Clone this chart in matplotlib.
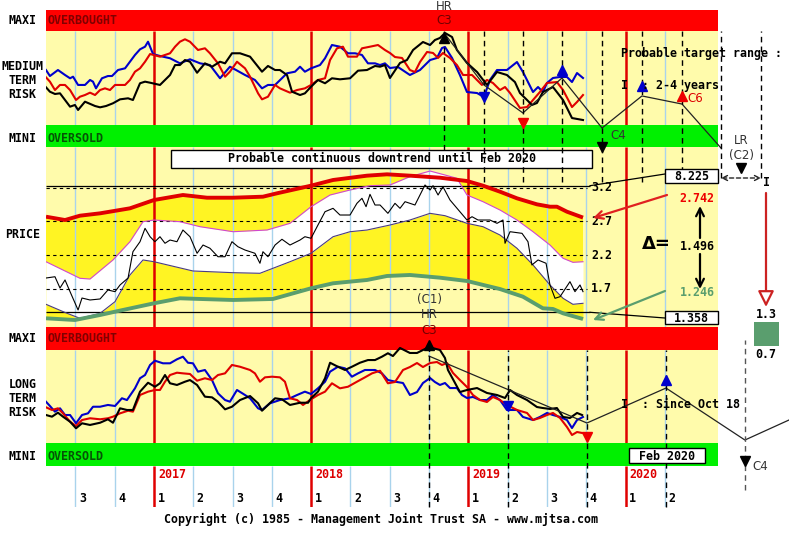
import numpy as np
import matplotlib
matplotlib.use("Agg")
import matplotlib.pyplot as plt
from matplotlib.patches import Rectangle, FancyArrowPatch
from matplotlib.lines import Line2D

# ---------------- data ----------------
quarter_lines = [2016.5, 2016.75, 2017.25, 2017.5, 2017.75, 2018.25, 2018.5, 2018.75,
                 2019.25, 2019.5, 2019.75, 2020.25]
year_lines = [2017, 2018, 2019, 2020]
year_labels = ["2017", "2018", "2019", "2020"]
quarter_label_pos = [2016.5, 2016.75, 2017.0, 2017.25, 2017.5, 2017.75, 2018.0, 2018.25,
                     2018.5, 2018.75, 2019.0, 2019.25, 2019.5, 2019.75, 2020.0, 2020.25]
quarter_labels = ["3", "4", "1", "2", "3", "4", "1", "2", "3", "4", "1", "2", "3", "4", "1", "2"]

# medium term risk (0 = oversold limit, 100 = overbought limit)
mt_blue = [(2016.313,58.5),(2016.338,52.1),(2016.389,58.5),(2016.434,53.2),(2016.466,49.7),(2016.485,51.4),
           (2016.517,42.6),(2016.561,42.6),(2016.593,47.9),(2016.612,46.1),(2016.631,39.0),(2016.669,49.7),
           (2016.707,52.1),(2016.733,52.1),(2016.771,58.5),(2016.816,60.3),(2016.847,67.3),(2016.879,74.5),
           (2016.911,80.5),(2016.943,83.3),(2016.962,88.6),(2016.994,75.5),(2017.038,73.4),(2017.102,71.0),
           (2017.165,65.6),(2017.229,69.9),(2017.293,65.6),(2017.356,63.8),(2017.420,49.7),(2017.483,62.0),
           (2017.522,58.5),(2017.579,53.2),(2017.642,47.9),(2017.687,39.0),(2017.725,42.6),(2017.770,42.6),
           (2017.846,55.0),(2017.897,56.7),(2017.929,62.0),(2017.960,56.7),(2017.999,60.3),(2018.056,63.8),
           (2018.088,71.0),(2018.132,85.1),(2018.183,83.3),(2018.234,76.3),(2018.279,76.3),(2018.323,74.5),
           (2018.361,65.6),(2018.406,65.6),(2018.438,63.8),(2018.469,65.6),(2018.501,60.6),(2018.552,61.7),
           (2018.628,53.2),(2018.692,58.5),(2018.756,69.1),(2018.800,71.3),(2018.832,81.9),(2018.851,83.0),
           (2018.896,71.3),(2018.946,53.2),(2018.991,35.1),(2019.055,34.0),(2019.099,29.8),(2019.137,47.9),
           (2019.182,58.5),(2019.245,58.5),(2019.309,67.0),(2019.347,56.4),(2019.411,35.1),(2019.443,40.4),
           (2019.474,35.1),(2019.500,44.7),(2019.538,50.0),(2019.583,51.1),(2019.627,51.1),(2019.659,45.7),
           (2019.691,55.3),(2019.729,50.0)]
mt_red = [(2016.313,50.7),(2016.338,46.1),(2016.370,37.2),(2016.402,42.6),(2016.434,42.6),(2016.466,37.2),
          (2016.504,26.6),(2016.529,30.1),(2016.561,31.9),(2016.593,34.4),(2016.625,31.9),(2016.657,37.2),
          (2016.688,39.0),(2016.720,37.2),(2016.752,42.6),(2016.816,42.6),(2016.847,47.9),(2016.879,56.7),
          (2016.911,60.3),(2016.943,67.3),(2016.975,75.5),(2017.038,72.7),(2017.102,76.3),(2017.134,83.3),
          (2017.165,88.6),(2017.197,91.2),(2017.229,88.6),(2017.280,79.8),(2017.324,81.6),(2017.356,76.3),
          (2017.407,65.6),(2017.452,51.4),(2017.483,56.7),(2017.528,67.3),(2017.579,60.3),(2017.611,51.4),
          (2017.662,33.7),(2017.687,27.3),(2017.725,30.1),(2017.770,42.6),(2017.801,39.0),(2017.865,34.4),
          (2017.910,37.2),(2017.960,39.0),(2017.999,42.6),(2018.043,47.9),(2018.088,49.7),(2018.120,69.1),
          (2018.164,81.6),(2018.202,83.3),(2018.234,72.7),(2018.291,72.7),(2018.323,81.6),(2018.374,83.3),
          (2018.425,85.1),(2018.469,79.8),(2018.501,76.6),(2018.533,72.3),(2018.578,71.3),(2018.628,58.5),
          (2018.660,56.4),(2018.692,67.0),(2018.737,77.7),(2018.775,76.6),(2018.807,71.3),(2018.838,76.6),
          (2018.883,71.3),(2018.927,63.8),(2018.966,53.2),(2019.023,53.2),(2019.086,42.6),(2019.118,47.9),
          (2019.156,44.7),(2019.201,37.2),(2019.233,40.4),(2019.265,34.0),(2019.328,18.1),(2019.373,19.1),
          (2019.411,26.6),(2019.455,35.1),(2019.500,44.7),(2019.563,45.7),(2019.602,37.2),(2019.659,19.1),
          (2019.691,24.5),(2019.729,31.9)]
mt_black = [(2016.313,40.1),(2016.338,35.4),(2016.370,33.0),(2016.402,33.7),(2016.434,26.6),(2016.466,19.5),
            (2016.497,21.3),(2016.517,16.0),(2016.561,24.8),(2016.625,20.2),(2016.657,18.8),(2016.695,20.2),
            (2016.739,23.1),(2016.784,27.3),(2016.835,28.4),(2016.866,26.6),(2016.911,44.4),(2016.943,46.1),
            (2016.975,45.0),(2017.038,42.6),(2017.102,53.2),(2017.134,63.8),(2017.165,63.8),(2017.197,69.1),
            (2017.229,67.3),(2017.274,55.6),(2017.324,65.6),(2017.369,62.0),(2017.420,67.3),(2017.452,65.6),
            (2017.496,76.3),(2017.547,76.3),(2017.611,72.7),(2017.662,62.0),(2017.687,56.7),(2017.725,62.8),
            (2017.770,58.5),(2017.801,58.5),(2017.846,53.2),(2017.878,35.4),(2017.929,31.9),(2017.960,33.7),
            (2017.999,40.7),(2018.043,47.9),(2018.088,44.4),(2018.132,49.7),(2018.183,48.6),(2018.247,49.7),
            (2018.298,57.8),(2018.355,58.5),(2018.406,62.8),(2018.438,62.0),(2018.469,63.8),(2018.501,50.0),
            (2018.565,66.0),(2018.609,69.1),(2018.648,79.8),(2018.711,88.3),(2018.756,85.1),(2018.787,90.4),
            (2018.819,92.6),(2018.851,97.9),(2018.896,93.6),(2018.927,79.8),(2018.991,66.0),(2019.055,56.4),
            (2019.118,42.6),(2019.182,56.4),(2019.245,53.2),(2019.296,45.7),(2019.328,34.0),(2019.373,26.6),
            (2019.404,21.3),(2019.436,23.4),(2019.474,35.1),(2019.538,40.4),(2019.602,26.6),(2019.659,7.4),
            (2019.729,5.3)]
mt_forecast = [(2018.845,97.9),(2019.099,42.6),(2019.347,12.8),(2019.595,50.0),(2019.850,-3.2),
               (2020.104,30.9),(2020.359,22.3),(2020.607,-24.5)]
mt_cycles = [2018.845, 2019.099, 2019.347, 2019.595, 2019.850, 2020.104, 2020.359, 2020.607, 2020.861]
mt_markers = [(2018.845,92.6,"^","black"),(2019.099,29.8,"v","#0000CC"),(2019.347,1.8,"v","#EE0000"),
              (2019.595,58.5,"^","#0000CC"),(2019.850,-23.0,"v","black"),(2020.104,41.5,"^","#0000CC"),
              (2020.359,30.9,"^","#EE0000"),(2020.734,-45.7,"v","black")]

# price
price_upper = [(2016.313,2.768),(2016.434,2.719),(2016.529,2.783),(2016.657,2.818),(2016.847,2.892),
               (2017.000,3.015),(2017.184,3.089),(2017.337,3.049),(2017.503,3.049),(2017.693,3.064),
               (2017.782,3.114),(2017.999,3.227),(2018.139,3.311),(2018.355,3.375),(2018.482,3.395),
               (2018.628,3.375),(2018.819,3.345),(2018.991,3.296),(2019.093,3.227),(2019.201,3.138),
               (2019.309,3.040),(2019.436,2.951),(2019.519,2.916),(2019.563,2.916),(2019.627,2.842),
               (2019.729,2.755)]
price_band_hi = [(2016.313,2.102),(2016.529,1.857),(2016.593,1.846),(2016.739,2.128),(2016.847,2.398),
                 (2016.930,2.694),(2017.000,2.719),(2017.165,2.694),(2017.293,2.620),(2017.503,2.546),
                 (2017.719,2.571),(2017.865,2.670),(2017.999,2.916),(2018.120,3.089),(2018.247,3.163),
                 (2018.374,3.227),(2018.501,3.237),(2018.628,3.360),(2018.756,3.444),(2018.851,3.385),
                 (2018.927,3.336),(2018.991,3.089),(2019.093,2.990),(2019.201,2.867),(2019.309,2.719),
                 (2019.411,2.546),(2019.519,2.349),(2019.602,2.153),(2019.665,2.093),(2019.729,2.102)]
price_band_lo = [(2016.313,1.472),(2016.447,1.339),(2016.529,1.265),(2016.657,1.339),(2016.752,1.511),
                 (2016.847,1.906),(2016.930,2.128),(2017.000,2.102),(2017.248,1.965),(2017.503,1.940),
                 (2017.674,1.931),(2017.865,2.102),(2017.999,2.227),(2018.139,2.472),(2018.247,2.546),
                 (2018.355,2.571),(2018.501,2.645),(2018.628,2.719),(2018.756,2.818),(2018.851,2.783),
                 (2018.991,2.670),(2019.093,2.620),(2019.201,2.497),(2019.309,2.301),(2019.411,2.054),
                 (2019.519,1.758),(2019.602,1.561),(2019.665,1.472),(2019.729,1.487)]
price_lower = [(2016.313,1.265),(2016.497,1.240),(2016.657,1.314),(2016.752,1.363),(2017.000,1.487),
               (2017.165,1.561),(2017.293,1.551),(2017.503,1.536),(2017.757,1.551),(2017.999,1.709),
               (2018.139,1.783),(2018.355,1.832),(2018.482,1.891),(2018.628,1.906),(2018.819,1.866),
               (2018.991,1.817),(2019.201,1.698),(2019.347,1.585),(2019.474,1.413),(2019.538,1.403),
               (2019.602,1.339),(2019.729,1.255)]
price = [(2016.313,1.861),(2016.370,1.880),(2016.402,1.713),(2016.434,1.832),(2016.466,1.659),(2016.517,1.388),
         (2016.542,1.565),(2016.593,1.536),(2016.657,1.551),(2016.707,1.684),(2016.752,1.659),(2016.784,1.758),
         (2016.835,1.861),(2016.866,2.250),(2016.911,2.398),(2016.943,2.596),(2016.975,2.472),(2017.006,2.398),
         (2017.038,2.472),(2017.070,2.375),(2017.102,2.423),(2017.146,2.398),(2017.184,2.571),(2017.229,2.472),
         (2017.274,2.227),(2017.312,2.349),(2017.356,2.301),(2017.407,2.176),(2017.452,2.176),(2017.496,2.398),
         (2017.534,2.324),(2017.579,2.275),(2017.642,2.227),(2017.674,2.079),(2017.693,2.250),(2017.725,2.176),
         (2017.770,2.349),(2017.814,2.434),(2017.865,2.349),(2017.929,2.423),(2017.960,2.472),(2017.999,2.449),
         (2018.043,2.645),(2018.088,2.842),(2018.139,2.892),(2018.183,2.793),(2018.247,2.793),(2018.291,2.966),
         (2018.323,3.040),(2018.349,2.916),(2018.374,3.099),(2018.406,2.941),(2018.438,2.941),(2018.488,2.818),
         (2018.533,2.966),(2018.565,2.892),(2018.597,2.990),(2018.660,2.941),(2018.724,3.237),(2018.756,3.163),
         (2018.775,3.227),(2018.807,3.089),(2018.838,3.212),(2018.883,3.015),(2018.946,2.842),(2018.991,2.719),
         (2019.023,2.768),(2019.061,2.719),(2019.137,2.719),(2019.182,2.670),(2019.220,2.719),(2019.233,2.375),
         (2019.265,2.546),(2019.341,2.522),(2019.379,2.398),(2019.404,2.054),(2019.443,2.128),(2019.494,2.079),
         (2019.519,1.758),(2019.551,1.561),(2019.583,1.585),(2019.646,1.807),(2019.678,1.659),(2019.710,1.758),
         (2019.729,1.659)]
price_grid = [1.7, 2.2, 2.7, 3.2]
target_hi, target_lo = 3.225, 1.358
proj_hi, proj_lo, proj_delta = 2.742, 1.246, 1.496
lr_hi, lr_lo = 1.3, 0.7

# long term risk
lt_blue = [(2016.313,44.4),(2016.338,39.8),(2016.370,33.7),(2016.402,37.3),(2016.434,30.1),(2016.466,30.1),
           (2016.504,21.2),(2016.542,30.1),(2016.580,31.9),(2016.612,39.0),(2016.657,39.0),(2016.707,40.9),
           (2016.752,39.8),(2016.796,48.1),(2016.828,46.2),(2016.879,58.8),(2016.911,69.6),(2016.943,73.1),
           (2016.975,83.9),(2017.006,88.5),(2017.057,85.7),(2017.102,85.7),(2017.146,90.0),(2017.184,92.8),
           (2017.216,86.3),(2017.248,85.7),(2017.280,76.7),(2017.324,78.5),(2017.369,67.7),(2017.407,53.4),
           (2017.452,46.2),(2017.483,44.4),(2017.528,57.0),(2017.579,51.6),(2017.611,48.1),(2017.662,37.3),
           (2017.687,35.5),(2017.738,42.7),(2017.801,46.2),(2017.865,48.1),(2017.910,51.6),(2017.960,55.2),
           (2017.999,52.7),(2018.043,58.8),(2018.088,65.9),(2018.120,76.7),(2018.170,82.0),(2018.215,80.3),
           (2018.259,71.3),(2018.298,74.9),(2018.342,78.5),(2018.406,78.5),(2018.450,74.9),(2018.488,67.7),
           (2018.546,65.6),(2018.584,64.5),(2018.628,51.6),(2018.673,54.8),(2018.711,64.5),(2018.756,69.9),
           (2018.787,65.6),(2018.819,62.4),(2018.851,64.5),(2018.883,59.1),(2018.927,59.1),(2018.959,51.6),
           (2018.991,48.4),(2019.029,49.5),(2019.074,46.2),(2019.118,46.2),(2019.156,51.6),(2019.201,46.2),
           (2019.245,35.5),(2019.309,35.5),(2019.347,28.0),(2019.411,24.7),(2019.455,28.0),(2019.500,32.3),
           (2019.538,30.1),(2019.583,28.0),(2019.627,24.7),(2019.659,16.1),(2019.691,24.7),(2019.729,28.0)]
lt_red = [(2016.313,38.4),(2016.351,35.5),(2016.389,37.3),(2016.421,31.9),(2016.466,22.9),(2016.504,18.3),
          (2016.542,24.7),(2016.593,26.6),(2016.657,25.5),(2016.707,26.6),(2016.739,28.3),(2016.784,31.9),
          (2016.835,34.7),(2016.866,33.7),(2016.911,51.6),(2016.962,55.2),(2017.006,57.0),(2017.038,57.0),
          (2017.070,65.9),(2017.102,73.1),(2017.146,75.6),(2017.184,74.9),(2017.229,74.2),(2017.274,67.0),
          (2017.324,69.6),(2017.369,67.7),(2017.407,73.1),(2017.452,74.9),(2017.496,83.9),(2017.547,82.0),
          (2017.611,78.5),(2017.642,74.9),(2017.674,65.9),(2017.706,70.6),(2017.751,71.3),(2017.801,70.6),
          (2017.833,65.9),(2017.865,48.1),(2017.910,46.2),(2017.948,40.9),(2017.992,46.2),(2018.043,51.6),
          (2018.088,55.2),(2018.132,64.2),(2018.183,58.8),(2018.234,60.5),(2018.291,65.9),(2018.342,70.6),
          (2018.387,74.9),(2018.438,77.7),(2018.488,64.2),(2018.533,65.6),(2018.584,78.5),(2018.628,81.7),
          (2018.673,86.0),(2018.711,81.7),(2018.756,86.0),(2018.800,87.1),(2018.832,83.9),(2018.864,86.0),
          (2018.902,75.3),(2018.946,67.7),(2018.991,60.2),(2019.029,51.6),(2019.074,46.2),(2019.118,44.1),
          (2019.156,49.5),(2019.201,46.2),(2019.245,40.9),(2019.309,35.5),(2019.373,32.3),(2019.411,24.7),
          (2019.455,26.9),(2019.500,30.1),(2019.538,32.3),(2019.583,26.9),(2019.627,17.2),(2019.659,8.6),
          (2019.691,11.8),(2019.723,10.8)]
lt_black = [(2016.313,30.1),(2016.351,28.3),(2016.389,32.6),(2016.421,28.3),(2016.466,22.9),(2016.504,15.8),
            (2016.542,21.2),(2016.593,19.4),(2016.657,21.8),(2016.707,25.5),(2016.739,21.8),(2016.784,37.3),
            (2016.828,35.5),(2016.866,35.5),(2016.911,55.2),(2016.962,64.8),(2017.006,60.5),(2017.038,64.2),
            (2017.070,73.1),(2017.102,64.2),(2017.146,62.4),(2017.197,65.9),(2017.229,67.7),(2017.274,62.4),
            (2017.324,49.8),(2017.369,49.1),(2017.407,44.4),(2017.452,36.2),(2017.496,39.0),(2017.547,46.2),
            (2017.611,50.5),(2017.662,42.7),(2017.687,34.7),(2017.725,40.9),(2017.770,48.1),(2017.814,47.0),
            (2017.865,40.9),(2017.929,43.3),(2017.980,43.3),(2017.999,48.1),(2018.043,55.2),(2018.088,69.6),
            (2018.120,86.3),(2018.170,82.0),(2018.215,78.5),(2018.259,82.0),(2018.310,86.3),(2018.361,89.2),
            (2018.406,89.2),(2018.450,92.8),(2018.488,96.5),(2018.520,93.5),(2018.565,102.2),(2018.628,96.8),
            (2018.673,96.8),(2018.711,100.0),(2018.749,103.2),(2018.819,100.0),(2018.851,91.4),(2018.870,78.5),
            (2018.915,64.5),(2018.946,54.8),(2018.991,57.0),(2019.055,59.1),(2019.118,53.8),(2019.182,51.6),
            (2019.233,48.4),(2019.265,57.0),(2019.309,51.6),(2019.373,46.2),(2019.436,38.7),(2019.474,37.6),
            (2019.519,36.6),(2019.563,37.6),(2019.602,28.0),(2019.646,26.9),(2019.691,32.3),(2019.723,30.1)]
lt_forecast = [(2018.749,93.5),(2019.754,21.5),(2020.257,59.1),(2020.759,3.2),(2021.039,24.7)]
lt_cycles = [2018.749, 2019.252, 2019.754, 2020.257]
lt_cycle_last = 2020.759
lt_markers = [(2018.749,105.4,"^","black"),(2019.252,39.8,"v","#0000CC"),(2019.754,6.5,"v","#EE0000"),
              (2020.257,67.7,"^","#0000CC"),(2020.759,-19.5,"v","black")]

# ---------------- figure / layout ----------------
W, H = 789, 535
fig = plt.figure(figsize=(W / 100, H / 100), dpi=100)
fig.patch.set_facecolor("white")

T_LEFT = 2016.313
PX_PER_YR = 157.2
T_RIGHT = T_LEFT + (W - 46) / PX_PER_YR
T_PANEL_END = T_LEFT + (718 - 46) / PX_PER_YR
PW = T_PANEL_END - T_LEFT

LY = "#FFFBAB"
BY = "#FFF423"
RB = "#FF0000"
GB = "#00F000"
LB = "#A9D3EC"
YR = "#E00000"
BLUE = "#0000CC"
REDL = "#E00000"
GREEN_P = "#5A9E6E"
MONO = "DejaVu Sans Mono"


def mr(py):
    return (125 - py) / 0.94


def lr(py):
    return (443 - py) / 0.93


def pp(py):
    return 3.2 - (py - 187.5) / 67.6


def add_panel(top, bottom, ytop, ybot, z):
    ax = fig.add_axes([46 / W, 1 - bottom / H, (W - 46) / W, (bottom - top) / H])
    ax.set_xlim(T_LEFT, T_RIGHT)
    ax.set_ylim(ybot, ytop)
    ax.axis("off")
    ax.set_zorder(z)
    return ax


def ftext(px, py, s, size=8.4, ha="center", color="black", weight="bold", family=MONO, **kw):
    fig.text(px / W, 1 - py / H, s, ha=ha, va="center", fontsize=size, color=color,
             fontweight=weight, family=family, zorder=10, **kw)


def fbox(x1, y1, x2, y2, fc="white", ec="black", lw=1.0, target=None):
    r = Rectangle((x1 / W, 1 - y2 / H), (x2 - x1) / W, (y2 - y1) / H, transform=fig.transFigure,
                  fc=fc, ec=ec, lw=lw, zorder=9)
    if target is None:
        fig.add_artist(r)
    else:
        target.add_artist(r)
        r.set_clip_on(False)


def farrow(p1, p2, color, style="->", lw=1.5, ms=12, ls="-", fc=None):
    a = FancyArrowPatch((p1[0] / W, 1 - p1[1] / H), (p2[0] / W, 1 - p2[1] / H),
                        transform=fig.transFigure, arrowstyle=style, mutation_scale=ms,
                        color=color, lw=lw, linestyle=ls, zorder=10, shrinkA=0, shrinkB=0)
    if fc is not None:
        a.set_facecolor(fc)
        a.set_edgecolor(color)
    fig.add_artist(a)


def fline(p1, p2, color="black", lw=0.9):
    fig.add_artist(Line2D([p1[0] / W, p2[0] / W], [1 - p1[1] / H, 1 - p2[1] / H],
                          transform=fig.transFigure, color=color, lw=lw, zorder=10))


def xy(series):
    t, v = zip(*series)
    return np.array(t), np.array(v)


ax_p = add_panel(147, 327, pp(147), pp(327), 1)
ax_l = add_panel(327, 507, lr(327), lr(507), 2)
ax_m = add_panel(10, 147, mr(10), mr(147), 3)

DASH = (0, (4, 3))

# ---------------- medium term panel ----------------
ax_m.add_patch(Rectangle((T_LEFT, 0), PW, 100, fc=LY, ec="none", zorder=0))
ax_m.add_patch(Rectangle((T_LEFT, 100), PW, mr(10) - 100, fc=RB, ec="none", zorder=4))
ax_m.add_patch(Rectangle((T_LEFT, mr(147)), PW, -mr(147), fc=GB, ec="none", zorder=4))
ax_m.vlines(quarter_lines, 0, 100, color=LB, lw=1.0, zorder=1)
ax_m.vlines(year_lines, 0, 100, color=YR, lw=1.8, zorder=1)
for s, c in ((mt_blue, BLUE), (mt_red, REDL), (mt_black, "black")):
    t, v = xy(s)
    ax_m.plot(t, v, color=c, lw=1.5, zorder=5)
t, v = xy(mt_forecast)
ax_m.plot(t, v, color="#222222", lw=0.9, zorder=6, clip_on=False)
ax_m.vlines(mt_cycles[0], mr(150), 100, color="black", lw=1.0, linestyles=DASH, zorder=6, clip_on=False)
ax_m.vlines(mt_cycles[1:7], mr(182), 100, color="black", lw=1.0, linestyles=DASH, zorder=6, clip_on=False)
ax_m.vlines(mt_cycles[7:], mr(178), 100, color="black", lw=1.0, linestyles=DASH, zorder=6, clip_on=False)
for tt, vv, mk, c in mt_markers:
    ax_m.plot([tt], [vv], marker=mk, color=c, ms=7, ls="none", zorder=7, clip_on=False)

# ---------------- price panel ----------------
ax_p.add_patch(Rectangle((T_LEFT, pp(327)), PW, pp(147) - pp(327), fc=LY, ec="none", zorder=0))
tu, vu = xy(price_upper)
th, vh = xy(price_band_hi)
tlo, vlo = xy(price_band_lo)
tg_, vg_ = xy(price_lower)
tg = np.linspace(T_LEFT, 2019.729, 900)
up_i = np.interp(tg, tu, vu)
hi_i = np.interp(tg, th, vh)
lo_i = np.interp(tg, tlo, vlo)
gr_i = np.interp(tg, tg_, vg_)
ax_p.fill_between(tg, hi_i, up_i, where=up_i >= hi_i, interpolate=True, color=BY, lw=0, zorder=1)
ax_p.fill_between(tg, lo_i, hi_i, color="white", lw=0, zorder=1)
ax_p.fill_between(tg, gr_i, lo_i, color=BY, lw=0, zorder=1)
ax_p.vlines(quarter_lines, pp(327), pp(147), color=LB, lw=1.0, zorder=2)
ax_p.vlines(year_lines, pp(327), pp(147), color=YR, lw=1.8, zorder=2)
ax_p.hlines(price_grid, T_LEFT, T_LEFT + (587 - 46) / PX_PER_YR, color="black", lw=0.8,
            linestyles=(0, (3, 3)), zorder=2)
ax_p.hlines([target_hi, target_lo], T_LEFT, T_LEFT + (590 - 46) / PX_PER_YR, color="black", lw=0.9, zorder=2)
for g in price_grid:
    ax_p.text(T_LEFT + (591 - 46) / PX_PER_YR, g, f"{g:.1f}", ha="left", va="center", fontsize=8.4,
              family=MONO, fontweight="bold", zorder=5)
t, v = xy(price_band_hi)
ax_p.plot(t, v, color="#D046D0", lw=0.8, zorder=3)
t, v = xy(price_band_lo)
ax_p.plot(t, v, color="#4A3C80", lw=0.8, zorder=3)
t, v = xy(price)
ax_p.plot(t, v, color="black", lw=0.8, zorder=3)
t, v = xy(price_upper)
ax_p.plot(t, v, color="#E00000", lw=2.8, zorder=4, solid_capstyle="butt")
t, v = xy(price_lower)
ax_p.plot(t, v, color=GREEN_P, lw=2.8, zorder=4, solid_capstyle="butt")

fbox(171, 150, 592, 168, target=ax_p)
ax_p.text(381.5 / W, 1 - 159 / H, "Probable continuous downtrend until Feb 2020", transform=fig.transFigure,
          ha="center", va="center", fontsize=8.4, family=MONO, fontweight="bold", zorder=10)

# ---------------- long term panel ----------------
ax_l.add_patch(Rectangle((T_LEFT, 0), PW, 100, fc=LY, ec="none", zorder=0))
ax_l.add_patch(Rectangle((T_LEFT, 100), PW, lr(327) - 100, fc=RB, ec="none", zorder=4))
ax_l.add_patch(Rectangle((T_LEFT, lr(466)), PW, -lr(466), fc=GB, ec="none", zorder=4))
for y0, y1 in ((0, 100), (lr(507), lr(466))):
    ax_l.vlines(quarter_lines, y0, y1, color=LB, lw=1.0, zorder=1)
    ax_l.vlines(year_lines, y0, y1, color=YR, lw=1.8, zorder=1)
for s, c in ((lt_blue, BLUE), (lt_red, REDL), (lt_black, "black")):
    t, v = xy(s)
    ax_l.plot(t, v, color=c, lw=1.5, zorder=5)
t, v = xy(lt_forecast)
ax_l.plot(t, v, color="#222222", lw=0.9, zorder=6, clip_on=False)
ax_l.vlines(lt_cycles, lr(507), 100, color="black", lw=1.0, linestyles=DASH, zorder=6, clip_on=False)
ax_l.vlines([lt_cycle_last], lr(490), lr(340), color="#555555", lw=1.0, linestyles=DASH, zorder=6,
            clip_on=False)
for tt, vv, mk, c in lt_markers:
    ax_l.plot([tt], [vv], marker=mk, color=c, ms=7, ls="none", zorder=7, clip_on=False)
for yl, lab in zip(year_lines, year_labels):
    ax_l.text(yl + 4 / PX_PER_YR, lr(474), lab, ha="left", va="center", color="#DD0000", fontsize=8.4,
              family=MONO, fontweight="bold", zorder=8)
for ql, lab in zip(quarter_label_pos, quarter_labels):
    ax_l.text(ql + 7 / PX_PER_YR, lr(498), lab, ha="center", va="center", color="black", fontsize=8.4,
              family=MONO, fontweight="bold", zorder=8)

# ---------------- labels / annotations ----------------
for py, s in ((20, "MAXI"), (66, "MEDIUM"), (80, "TERM"), (94, "RISK"), (139, "MINI"), (234, "PRICE"),
              (338, "MAXI"), (384, "LONG"), (398, "TERM"), (412, "RISK"), (457, "MINI")):
    ftext(22.5, py, s)
for py in (20, 338):
    ftext(48, py, "OVERBOUGHT", ha="left", color="#800000")
for py in (139, 457):
    ftext(48, py, "OVERSOLD", ha="left", color="#065206")

ftext(444, 6, "HR", size=8.5, weight="normal", family="DejaVu Sans", color="#333333")
ftext(444, 20, "C3", size=8.5, weight="normal", family="DejaVu Sans", color="#700000")
ftext(621, 53, "Probable target range :", ha="left")
ftext(621, 85, "I  : 2-4 years", ha="left")
ftext(687, 98, "C6", ha="left", size=8.5, weight="normal", family="DejaVu Sans", color="#DD0000")
ftext(610, 136, "C4", ha="left", size=8.5, weight="normal", family="DejaVu Sans", color="#333333")
ftext(741, 140, "LR", size=8.5, weight="normal", family="DejaVu Sans", color="#333333")
ftext(741, 156, "(C2)", size=8.5, weight="normal", family="DejaVu Sans", color="#333333")
farrow((721, 178), (761, 178), "#222222", style="<->", lw=1.0, ms=9, ls=(0, (3, 2)))
ftext(767, 183, "I")

# price side annotations
fline((590, 185.7), (665, 174))
fline((590, 312.3), (665, 318))
fbox(665, 169, 718, 183)
ftext(691.5, 176, "8.225")
fbox(665, 311, 718, 324)
ftext(691.5, 318, f"{target_lo:.3f}")
ftext(697, 198, f"{proj_hi:.3f}", color="#EE0000")
ftext(697, 246, f"{proj_delta:.3f}")
ftext(697, 293, f"{proj_lo:.3f}", color=GREEN_P)
ftext(656, 244, "Δ=", size=13, family="DejaVu Sans")
farrow((667, 195), (593, 218), "#E02020", lw=1.6, ms=14)
farrow((665, 291), (593, 320), GREEN_P, lw=1.6, ms=14)
farrow((700, 238), (700, 206), "black", lw=1.6, ms=14)
farrow((700, 254), (700, 289), "black", lw=1.6, ms=14)
farrow((766, 193), (766, 307), "#CC2222", style="-|>,head_length=0.6,head_width=0.3", lw=1.6, ms=16,
       fc="white")
ftext(766, 315, f"{lr_hi:.1f}")
fbox(754, 322, 779, 346, fc=GREEN_P, ec="none")
ftext(766, 355, f"{lr_lo:.1f}")

# long term annotations
ftext(429, 299, "(C1)", size=8.5, weight="normal", family="DejaVu Sans", color="#333333")
ftext(429, 315, "HR", size=8.5, weight="normal", family="DejaVu Sans", color="#333333")
ftext(429, 331, "C3", size=8.5, weight="normal", family="DejaVu Sans", color="#700000")
ftext(621, 405, "I  : Since Oct 18", ha="left")
ftext(752, 466, "C4", ha="left", size=8.5, weight="normal", family="DejaVu Sans", color="#333333")
fbox(629, 448, 705, 463)
ftext(667, 456, "Feb 2020")

ftext(381, 519, "Copyright (c) 1985 - Management Joint Trust SA - www.mjtsa.com")

fig.savefig("out.png", dpi=100, facecolor="white")
